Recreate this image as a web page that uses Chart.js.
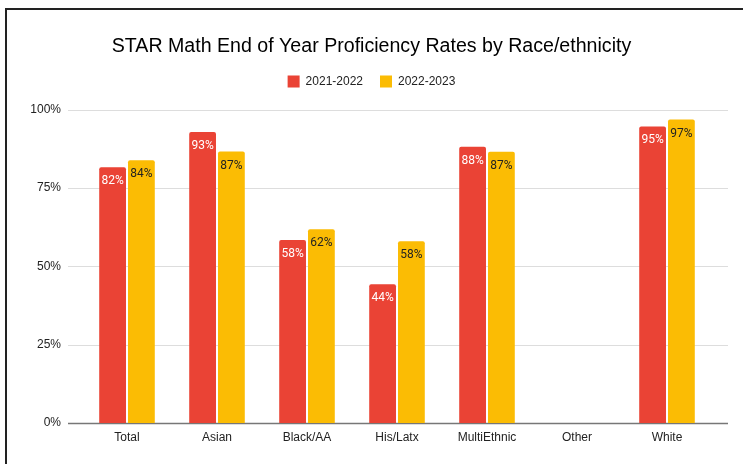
<!DOCTYPE html>
<html>
<head>
<meta charset="utf-8">
<script src="https://cdn.jsdelivr.net/npm/chart.js@4"></script>
<style>
  html, body { margin: 0; padding: 0; background: #fff; }
  #wrap { position: relative; width: 743px; height: 464px; overflow: hidden; }
  #frame { position: absolute; left: 5px; top: 8px; width: 760px; height: 480px;
           border-top: 2px solid #222; border-left: 2px solid #222; }
  canvas { position: absolute; left: 0; top: 0; }
</style>
</head>
<body>
<div id="wrap">
  <div id="frame"></div>
  <canvas id="chart" width="743" height="464"></canvas>
</div>
<script>
// categories and values
const groups = ['Total', 'Asian', 'Black/AA', 'His/Latx', 'MultiEthnic', 'Other', 'White'];
const year1 = [81.6, 92.8, 58.4, 44.3, 88.1, null, 94.6];  // 2021-2022
const year2 = [83.8, 86.6, 61.8, 58.0, 86.5, null, 96.8];  // 2022-2023
const yTicks = [0, 25, 50, 75, 100];

// gridlines run a bit wider than the category area, like Sheets draws them
const gridPlugin = {
  id: 'grid',
  beforeDatasetsDraw(chart) {
    const y = chart.scales.y, ctx = chart.ctx, a = chart.chartArea;
    ctx.save();
    yTicks.forEach(t => {
      const py = Math.round(y.getPixelForValue(t)) + 0.5;
      ctx.beginPath();
      ctx.moveTo(a.left - 14, py);
      ctx.lineTo(a.right + 16, py);
      ctx.strokeStyle = t === 0 ? '#777' : '#ddd';
      ctx.lineWidth = t === 0 ? 1.5 : 1;
      ctx.stroke();
    });
    ctx.restore();
  }
};

// value labels inside the top of each bar
const labelPlugin = {
  id: 'barLabels',
  afterDatasetsDraw(chart) {
    const ctx = chart.ctx;
    ctx.save();
    ctx.font = '12px Roboto';
    ctx.textAlign = 'center';
    ctx.textBaseline = 'middle';
    chart.data.datasets.forEach((ds, i) => {
      chart.getDatasetMeta(i).data.forEach((bar, j) => {
        const v = ds.data[j];
        if (v == null) return;
        ctx.fillStyle = i === 0 ? '#fff' : '#222';
        ctx.fillText(Math.round(v) + '%', bar.x, bar.y + 14);
      });
    });
    ctx.restore();
  }
};

const hidden = {
  display: true,
  grid: { display: false, drawTicks: false },
  border: { display: false },
  ticks: { display: false }
};

new Chart(document.getElementById('chart'), {
  type: 'bar',
  data: {
    labels: groups,
    datasets: [{
      label: '2021-2022',
      data: year1,
      backgroundColor: '#EA4335',
      categoryPercentage: 0.64,
      barPercentage: 0.93,
      borderRadius: { topLeft: 2, topRight: 2 },
      borderSkipped: 'bottom'
    }, {
      label: '2022-2023',
      data: year2,
      backgroundColor: '#FBBC04',
      categoryPercentage: 0.64,
      barPercentage: 0.93,
      borderRadius: { topLeft: 2, topRight: 2 },
      borderSkipped: 'bottom'
    }]
  },
  options: {
    responsive: false,
    animation: false,
    layout: { padding: 0 },
    plugins: {
      title: {
        display: true,
        text: 'STAR Math End of Year Proficiency Rates by Race/ethnicity',
        color: '#000',
        font: { family: 'Liberation Sans', size: 19.6, weight: 'normal' },
        padding: { top: 35, bottom: 0 }
      },
      legend: {
        labels: {
          color: '#222',
          font: { family: 'Liberation Sans', size: 12 },
          boxWidth: 12,
          boxHeight: 12,
          padding: 17
        }
      },
      tooltip: { enabled: false }
    },
    scales: {
      x: {
        grid: { display: false, drawTicks: false },
        border: { display: false },
        ticks: { color: '#222', font: { family: 'Liberation Sans', size: 12 }, padding: 7 },
        afterFit(scale) { scale.height = 41; }
      },
      xTop: Object.assign({ position: 'top', type: 'category',
        afterFit(scale) { scale.height = 12; } }, hidden),
      y: {
        min: 0,
        max: 100,
        grid: { display: false, drawTicks: false },
        border: { display: false },
        ticks: {
          stepSize: 25,
          color: '#222',
          padding: 21,
          font: { family: 'Liberation Sans', size: 12 },
          callback: v => v + '%'
        },
        afterFit(scale) { scale.width = 82; }
      },
      yRight: Object.assign({ position: 'right', type: 'linear',
        afterFit(scale) { scale.width = 31; } }, hidden)
    }
  },
  plugins: [gridPlugin, labelPlugin]
});
</script>
</body>
</html>
